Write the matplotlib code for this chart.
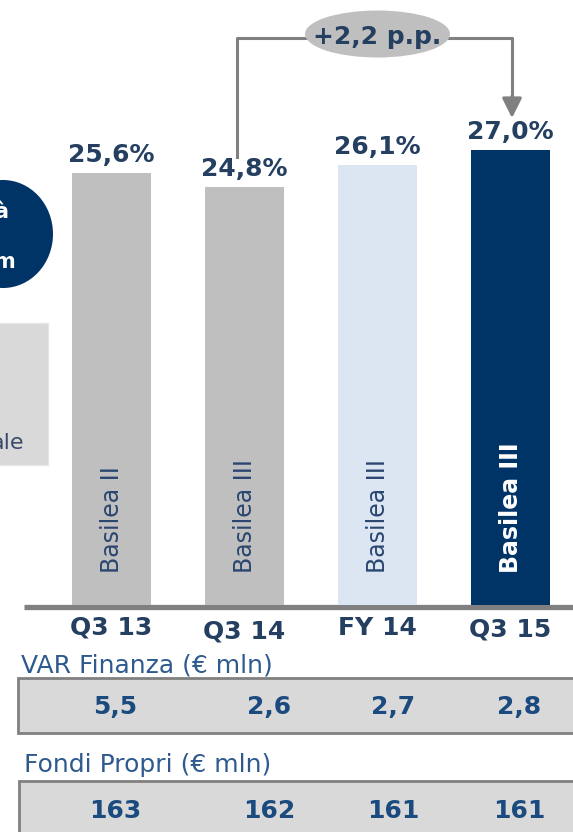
import numpy as np
import matplotlib
matplotlib.use("Agg")
import matplotlib.pyplot as plt
from matplotlib.patches import Ellipse, Rectangle
import matplotlib.transforms as mtransforms

# data
periods = ["Q3 13", "Q3 14", "FY 14", "Q3 15"]
ratio = [25.6, 24.8, 26.1, 27.0]
regime = ["Basilea II", "Basilea III", "Basilea III", "Basilea III"]
var_finanza = ["5,5", "2,6", "2,7", "2,8"]
fondi_propri = ["163", "162", "161", "161"]
delta_label = "+2,2 p.p."

bar_colors = ["#BFBFBF", "#BFBFBF", "#DCE6F2", "#003366"]
dark = "#243F60"
blue_val = "#1A4A7E"
blue_txt = "#2E5A8E"
gray_line = "#808080"

W, H = 573, 832
fig = plt.figure(figsize=(W / 100, H / 100), dpi=100)
plt.rcParams["font.family"] = ["DejaVu Sans"]

# overlay axes in pixel units for the slide decorations
ov = fig.add_axes([0, 0, 1, 1])
ov.set_xlim(0, W)
ov.set_ylim(H, 0)
ov.axis("off")

# bar axes: baseline at y=604.5 px, 16.84 px per percentage point
base_px = 604.5
px_per_pp = 16.84
step = 133.0
first = 111.5
bax = fig.add_axes([0, (H - base_px) / H, 1, base_px / H])
bax.set_ylim(0, base_px / px_per_pp)
bax.set_xlim(-first / step, (W - first) / step)
bax.axis("off")
bax.patch.set_alpha(0)

x = np.arange(len(periods))
bax.bar(x, ratio, width=0.594, color=bar_colors, zorder=2)

for i, v in enumerate(ratio):
    bax.annotate(f"{v:.1f}%".replace(".", ","), (i, v), xytext=(0, 8),
                 textcoords="offset points", ha="center", va="baseline",
                 fontsize=18, fontweight="bold", color=dark)
    last = i == len(ratio) - 1
    bax.annotate(regime[i], (i, 0), xytext=(0, 23), textcoords="offset points",
                 rotation=90, ha="center", va="bottom", fontsize=17,
                 fontweight="bold" if last else "normal",
                 color="white" if last else "#2A4670", zorder=3)

# baseline
ov.plot([24, W], [607.3, 607.3], color=gray_line, lw=3.8, solid_capstyle="butt")

# category labels under the axis
blend = mtransforms.blended_transform_factory(bax.transData, ov.transData)
label_y = [628, 632, 628, 630]
for i, p in enumerate(periods):
    ax_txt = bax.text(i, label_y[i], p, transform=blend, ha="center", va="center",
                      fontsize=18, fontweight="bold", color=dark)

# bracket with delta
ov.plot([237, 237, 512, 512], [157, 38, 38, 100], color=gray_line, lw=2.2, zorder=1)
ov.annotate("", xy=(512, 118), xytext=(512, 96),
            arrowprops=dict(arrowstyle="-|>,head_length=0.6,head_width=0.3",
                            color=gray_line, lw=2.2, mutation_scale=20,
                            shrinkA=0, shrinkB=0))
ov.add_patch(Ellipse((377.5, 34), 145, 47, facecolor="#BFBFBF", edgecolor="none", zorder=2))
ov.text(377.5, 44, delta_label, ha="center", va="baseline", fontsize=18,
        fontweight="bold", color=dark, zorder=3)

# left side clipped shapes
ov.add_patch(Ellipse((3, 234), 100, 108, facecolor="#003366", edgecolor="none"))
ov.text(8, 218, "à", ha="right", va="baseline", fontsize=15, fontweight="bold", color="white")
ov.text(15, 268, "m", ha="right", va="baseline", fontsize=15, fontweight="bold", color="white")
ov.add_patch(Rectangle((-5, 323), 53, 142, facecolor="#D9D9D9", edgecolor="#E6E6E6", lw=1))
ov.text(24, 449, "ale", ha="right", va="baseline", fontsize=16, color="#3A4A6B")

# tables
table_x = [115, 269, 393, 519]
ov.text(21, 672, "VAR Finanza (€ mln)", ha="left", va="baseline", fontsize=18, color=blue_txt)
ov.add_patch(Rectangle((18, 678), 580, 55, facecolor="#D9D9D9", edgecolor=gray_line, lw=2))
for xi, s in zip(table_x, var_finanza):
    ov.text(xi, 707, s, ha="center", va="center", fontsize=18, fontweight="bold", color=blue_val)

ov.text(24, 772, "Fondi Propri (€ mln)", ha="left", va="baseline", fontsize=18, color=blue_txt)
ov.add_patch(Rectangle((19, 781), 580, 70, facecolor="#D9D9D9", edgecolor=gray_line, lw=2))
for xi, s in zip(table_x, fondi_propri):
    ov.text(xi, 811, s, ha="center", va="center", fontsize=18, fontweight="bold", color=blue_val)

fig.savefig("out.png", dpi=100)
